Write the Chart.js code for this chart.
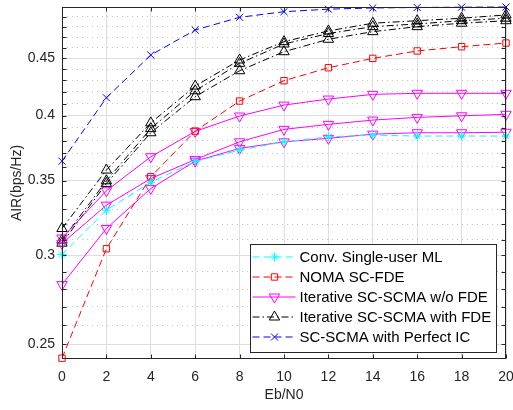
<!DOCTYPE html>
<html>
<head>
<meta charset="utf-8">
<script src="https://cdn.jsdelivr.net/npm/chart.js@4.4.0/dist/chart.umd.min.js"></script>
<style>
  html, body { margin: 0; padding: 0; background: #fff; }
  #wrap { width: 513px; height: 410px; }
</style>
</head>
<body>
<div id="wrap"><canvas id="air" width="513" height="410"></canvas></div>
<script>
// Eb/N0 points (dB)
const ebN0 = [0, 2, 4, 6, 8, 10, 12, 14, 16, 18, 20];

// AIR in bps/Hz
const convML     = [0.3006, 0.3293, 0.3488, 0.3640, 0.3726, 0.3790, 0.3829, 0.3842, 0.3835, 0.3835, 0.3835];
const nomaFde    = [0.2429, 0.3042, 0.3527, 0.3874, 0.4121, 0.4297, 0.4413, 0.4499, 0.4568, 0.4608, 0.4643];
const woFde1     = [0.3110, 0.3427, 0.3675, 0.3872, 0.3996, 0.4087, 0.4138, 0.4178, 0.4187, 0.4187, 0.4187];
const woFde2     = [0.3075, 0.3327, 0.3514, 0.3654, 0.3790, 0.3888, 0.3928, 0.3963, 0.3985, 0.3998, 0.4010];
const woFde3     = [0.2826, 0.3171, 0.3443, 0.3642, 0.3739, 0.3790, 0.3817, 0.3850, 0.3861, 0.3861, 0.3865];
const withFde1   = [0.3171, 0.3576, 0.3940, 0.4250, 0.4484, 0.4656, 0.4760, 0.4836, 0.4861, 0.4886, 0.4919];
const withFde2   = [0.3096, 0.3498, 0.3894, 0.4209, 0.4453, 0.4634, 0.4735, 0.4802, 0.4829, 0.4861, 0.4886];
const withFde3   = [0.3077, 0.3479, 0.3861, 0.4158, 0.4386, 0.4561, 0.4679, 0.4753, 0.4802, 0.4836, 0.4861];
const perfectIC  = [0.3642, 0.4149, 0.4530, 0.4769, 0.4895, 0.4952, 0.4978, 0.4990, 0.4995, 0.4998, 0.5000];

// labelled y ticks; minor grid every 0.01 in between
const yTickValues = [0.25, 0.3, 0.35, 0.4, 0.45];
const yTickLabels = ['0.25', '0.3', '0.35', '0.4', '0.45'];
const yGrid = [];
for (let i = 25; i <= 50; i++) yGrid.push(i / 100);

const legendLabels = [
  'Conv. Single-user ML',
  'NOMA SC-FDE',
  'Iterative SC-SCMA w/o FDE',
  'Iterative SC-SCMA with FDE',
  'SC-SCMA with Perfect IC'
];

const FONT = '"Liberation Sans", Arial, Helvetica, sans-serif';
Chart.defaults.font.family = FONT;

const isMajor = v => Math.round(v * 100) % 5 === 0;

const DASH = [7, 4];
const DASHDOT = [7, 3, 1.5, 3];

function series(label, values, color, dash, style, radius, rotation) {
  return {
    label: label,
    data: ebN0.map((x, i) => ({ x: x, y: values[i] })),
    borderColor: color,
    borderWidth: 1,
    borderDash: dash,
    pointStyle: style,
    pointRadius: radius,
    pointRotation: rotation || 0,
    pointBorderColor: color,
    pointBackgroundColor: 'rgba(0,0,0,0)',
    pointBorderWidth: 1,
    tension: 0,
    fill: false,
    clip: false
  };
}

const datasets = [
  series(legendLabels[0], convML, '#00ffff', DASH, 'star', 4.5),
  series(legendLabels[1], nomaFde, '#ff0000', DASH, 'rect', 4.5),
  series(legendLabels[2], woFde1, '#ff00ff', [], 'triangle', 6, 180),
  series(legendLabels[2], woFde2, '#ff00ff', [], 'triangle', 6, 180),
  series(legendLabels[2], woFde3, '#ff00ff', [], 'triangle', 6, 180),
  series(legendLabels[3], withFde1, '#000000', DASHDOT, 'triangle', 6),
  series(legendLabels[3], withFde2, '#000000', DASHDOT, 'triangle', 6),
  series(legendLabels[3], withFde3, '#000000', DASHDOT, 'triangle', 6),
  series(legendLabels[4], perfectIC, '#0000ff', DASH, 'crossRot', 5)
];
// which dataset stands for each legend row
const legendRows = [0, 1, 2, 5, 8];

// box, inward tick marks and the legend
const framePlugin = {
  id: 'frame',
  afterDatasetsDraw(chart) {
    const ctx = chart.ctx;
    const a = chart.chartArea;
    const xs = chart.scales.x, ys = chart.scales.y;
    const L = Math.round(a.left) + 0.5, R = Math.round(a.right) - 0.5;
    const T = Math.round(a.top) + 0.5, B = Math.round(a.bottom) - 0.5;
    ctx.save();
    ctx.strokeStyle = '#262626';
    ctx.lineWidth = 1;
    ctx.beginPath();
    yGrid.forEach(v => {
      const p = Math.round(ys.getPixelForValue(v)) + 0.5;
      ctx.moveTo(L, p); ctx.lineTo(L + 4, p);
      ctx.moveTo(R, p); ctx.lineTo(R - 4, p);
    });
    ebN0.forEach(v => {
      const p = Math.round(xs.getPixelForValue(v)) + 0.5;
      ctx.moveTo(p, B); ctx.lineTo(p, B - 4);
      ctx.moveTo(p, T); ctx.lineTo(p, T + 4);
    });
    ctx.stroke();
    ctx.strokeRect(L, T, R - L, B - T);

    // legend
    const bx = 250.5, by = 244.5, bw = 246, bh = 108;
    ctx.fillStyle = '#ffffff';
    ctx.fillRect(bx, by, bw, bh);
    ctx.strokeRect(bx, by, bw, bh);
    ctx.font = '15px ' + FONT;
    ctx.textBaseline = 'middle';
    ctx.textAlign = 'left';
    legendRows.forEach((di, i) => {
      const ds = chart.data.datasets[di];
      const y = by + 12.5 + i * 20;
      ctx.strokeStyle = ds.borderColor;
      ctx.setLineDash(ds.borderDash);
      ctx.beginPath();
      ctx.moveTo(bx + 2, y);
      ctx.lineTo(bx + 45, y);
      ctx.stroke();
      ctx.setLineDash([]);
      ctx.fillStyle = 'rgba(0,0,0,0)';
      Chart.helpers.drawPoint(ctx, {
        pointStyle: ds.pointStyle, rotation: ds.pointRotation,
        radius: ds.pointRadius, borderWidth: 1
      }, bx + 24, y);
      ctx.fillStyle = '#000000';
      ctx.fillText(legendLabels[i], bx + 49, y + 0.5);
    });
    ctx.restore();
  }
};

new Chart(document.getElementById('air'), {
  type: 'line',
  data: { datasets: datasets },
  options: {
    responsive: false,
    animation: false,
    layout: { padding: { left: 0, right: 6, top: 7, bottom: 0 } },
    plugins: { legend: { display: false }, tooltip: { enabled: false } },
    scales: {
      x: {
        type: 'linear',
        min: 0,
        max: 20,
        afterFit: s => { s.height = 51; s.paddingLeft = 0; s.paddingRight = 0; },
        ticks: {
          stepSize: 2, autoSkip: false, maxRotation: 0, padding: 10,
          color: '#262626', font: { size: 14 }
        },
        grid: { drawTicks: false, color: '#dedede', lineWidth: 1 },
        border: { display: false },
        title: {
          display: true, text: 'Eb/N0', color: '#262626',
          font: { size: 14 }, padding: { top: 0, bottom: 6 }
        }
      },
      y: {
        type: 'logarithmic',
        min: 0.2425,
        max: 0.5,
        afterBuildTicks: s => { s.ticks = yGrid.map(v => ({ value: v })); },
        afterFit: s => { s.width = 62; s.paddingTop = 0; s.paddingBottom = 0; },
        ticks: {
          autoSkip: false, padding: 7, color: '#262626', font: { size: 14 },
          callback: v => {
            const i = yTickValues.findIndex(t => Math.abs(t - v) < 1e-6);
            return i < 0 ? '' : yTickLabels[i];
          }
        },
        grid: {
          drawTicks: false, lineWidth: 1,
          color: c => isMajor(c.tick.value) ? '#dedede' : '#c2c2c2'
        },
        border: {
          display: false,
          dash: c => (c.tick && !isMajor(c.tick.value)) ? [1, 4] : []
        },
        title: {
          display: true, text: 'AIR(bps/Hz)', color: '#262626',
          font: { size: 14 }, padding: { top: 9, bottom: 0 }
        }
      }
    }
  },
  plugins: [framePlugin]
});
</script>
</body>
</html>
